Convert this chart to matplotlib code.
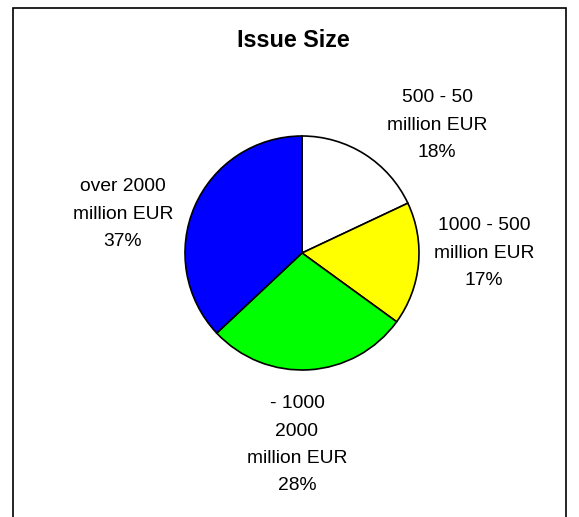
import matplotlib
matplotlib.use("Agg")
import matplotlib.pyplot as plt
from matplotlib.patches import Rectangle

plt.rcParams['font.family'] = ['Liberation Sans', 'DejaVu Sans']

# Share of issues by size class
categories = ["500 - 50\nmillion EUR", "1000 - 500\nmillion EUR",
              "- 1000\n2000\nmillion EUR", "over 2000\nmillion EUR"]
shares = [18, 17, 28, 37]
colors = ["#FFFFFF", "#FFFF00", "#00FF00", "#0000FF"]
title = "Issue Size"

W, H = 579, 517
fig = plt.figure(figsize=(W / 100, H / 100), dpi=100)
fig.patch.set_facecolor("white")

# chart frame (open at the bottom edge of the canvas)
fig.add_artist(Rectangle((13 / W, -0.05), (566 - 13) / W, (H - 8) / H + 0.05,
                         transform=fig.transFigure, fill=False,
                         edgecolor="black", linewidth=1.2))

cx, cy, r = 302, 253, 117
ax = fig.add_axes([(cx - r) / W, (H - cy - r) / H, 2 * r / W, 2 * r / H])
ax.pie(shares, colors=colors, startangle=90, counterclock=False, radius=1,
       wedgeprops=dict(edgecolor="black", linewidth=1.2))
ax.set_xlim(-1, 1)
ax.set_ylim(-1, 1)
ax.axis("off")

# label anchor points in pie units
label_pos = [(1.154, 1.094), (1.556, 0.0), (-0.043, -1.64), (-1.53, 0.333)]
for cat, val, (lx, ly) in zip(categories, shares, label_pos):
    ax.text(lx, ly, f"{cat}\n{val}%", ha="center", va="center",
            fontsize=13.9, linespacing=1.8, clip_on=False)

fig.text(293.5 / W, 1 - 47 / H, title, ha="center", va="baseline",
         fontsize=16.8, fontweight="bold")

fig.savefig("out.png", dpi=100)
